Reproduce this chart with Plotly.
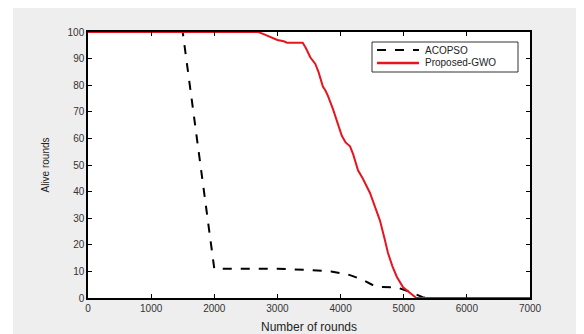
import plotly.graph_objects as go

# ACOPSO series
aco_rounds = [0, 1500, 2000, 3000, 3500, 3850, 4150, 4355, 4500, 4625, 4890, 5100, 5300, 5350]
aco_alive = [100, 100, 11, 11, 10.5, 10, 8.6, 6.8, 5, 4.1, 4, 2.3, 0.3, 0]

# Proposed-GWO series
gwo_rounds = [0, 2700, 2800, 2900, 3000, 3100, 3150, 3400, 3450, 3520, 3600, 3650,
              3720, 3760, 3800, 3880, 3950, 4020, 4080, 4150, 4200, 4276, 4350,
              4466, 4550, 4625, 4700, 4750, 4820, 4890, 4990, 5100, 5200, 7000]
gwo_alive = [100, 100, 99, 98, 97, 96.5, 96, 96, 94, 90.5, 88, 85,
             79.5, 78, 76, 71, 66, 61, 58.5, 57, 54, 48, 45,
             39.5, 34, 29, 22, 17, 12, 8, 4, 2, 0, 0]

x_ticks = [0, 1000, 2000, 3000, 4000, 5000, 6000, 7000]
y_ticks = [0, 10, 20, 30, 40, 50, 60, 70, 80, 90, 100]
legend_names = ["ACOPSO", "Proposed-GWO"]

FONT = "Liberation Sans"

fig = go.Figure()
fig.add_trace(go.Scatter(x=aco_rounds, y=aco_alive, mode="lines", name=legend_names[0],
                         showlegend=False,
                         line=dict(color="black", width=2, dash="dash")))
fig.add_trace(go.Scatter(x=gwo_rounds, y=gwo_alive, mode="lines", name=legend_names[1],
                         showlegend=False,
                         line=dict(color="#e8141e", width=2)))

# page offset of 8px (body margin)
OFF = 8
PL, PR, PT, PB = 88, 530, 32, 298   # plot area in page pixels
L, T = PL - OFF, PT - OFF
W, H = 576, 326
R = W - (PR - OFF)
B = H - (PB - OFF)
pw = PR - PL
ph = PB - PT


def px(X):
    return (X - PL) / pw


def py(Y):
    return (PB - Y) / ph


# grey surround and white plot area
fig.add_shape(type="rect", xref="paper", yref="paper", layer="below",
              x0=px(13), x1=px(600), y0=py(350), y1=py(7),
              fillcolor="#eeeeee", line=dict(width=0))
fig.add_shape(type="rect", xref="paper", yref="paper", layer="below",
              x0=0, x1=1, y0=0, y1=1, fillcolor="white", line=dict(width=0))

# legend box
fig.add_shape(type="rect", xref="paper", yref="paper",
              x0=px(372), x1=px(518), y0=py(72), y1=py(42),
              fillcolor="white", line=dict(color="#333333", width=1))
fig.add_shape(type="line", xref="paper", yref="paper",
              x0=px(377), x1=px(419), y0=py(50), y1=py(50),
              line=dict(color="black", width=2, dash="dash"))
fig.add_shape(type="line", xref="paper", yref="paper",
              x0=px(377), x1=px(419), y0=py(63), y1=py(63),
              line=dict(color="#e8141e", width=2.5))
for name, yy in zip(legend_names, [50, 63]):
    fig.add_annotation(x=px(423), y=py(yy), xref="paper", yref="paper",
                       text=name, showarrow=False, xanchor="left", yanchor="middle",
                       font=dict(family=FONT, size=10, color="#222222"))

axis_common = dict(showgrid=False, zeroline=False, showline=True, linecolor="black",
                   linewidth=1.5, mirror="ticks", ticks="inside", ticklen=4,
                   tickcolor="black", tickfont=dict(family=FONT, size=10, color="#333333"))

fig.update_xaxes(range=[0, 7000], tickvals=x_ticks,
                 title=dict(text="Number of rounds", standoff=10,
                            font=dict(family=FONT, size=12, color="#222222")),
                 **axis_common)
fig.update_yaxes(range=[0, 100], tickvals=y_ticks,
                 title=dict(text="Alive rounds", standoff=16,
                            font=dict(family=FONT, size=10, color="#222222")),
                 **axis_common)

fig.update_layout(
    width=W, height=H,
    margin=dict(l=L, r=R, t=T, b=B, autoexpand=False),
    paper_bgcolor="white", plot_bgcolor="white",
    showlegend=False,
)

fig.write_html("out.html")
